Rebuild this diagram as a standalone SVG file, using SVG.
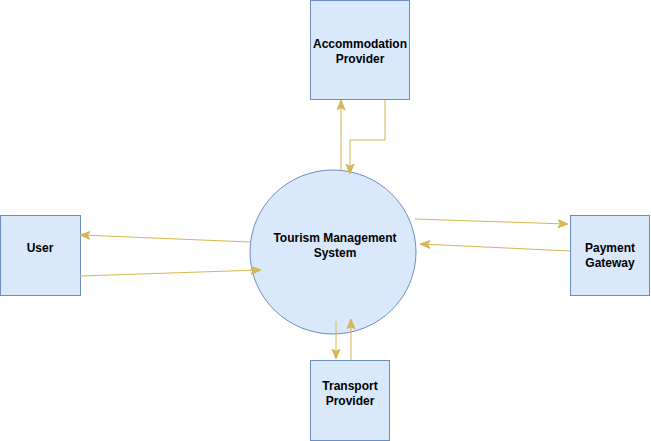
<svg xmlns="http://www.w3.org/2000/svg" width="651" height="441" viewBox="0 0 651 441">
<style>
.box{fill:#dae8fc;stroke:#6c8ebf;stroke-width:1}
.lbl{font-family:"Liberation Sans",Arial,sans-serif;font-size:12px;font-weight:bold;fill:#000;text-anchor:middle}
.c{fill:none;stroke:#d6b656;stroke-width:1;marker-end:url(#ah)}
</style>
<defs>
<marker id="ah" viewBox="0 0 10 10" refX="9" refY="5" markerWidth="10" markerHeight="10" markerUnits="userSpaceOnUse" orient="auto">
<path d="M0,1 L10,5 L0,9 L2.5,5 Z" fill="#d6b656" stroke="#d6b656" stroke-width="1"/>
</marker>
</defs>
<rect width="651" height="441" fill="#ffffff"/>
<g id="accommodation">
<rect class="box" x="310.500" y="0.500" width="99" height="99"/>
<text class="lbl" x="360" y="48">Accommodation</text>
<text class="lbl" x="360" y="63">Provider</text>
</g>
<g id="tms">
<ellipse class="box" cx="333" cy="252" rx="83" ry="82"/>
<text class="lbl" x="335" y="242">Tourism Management</text>
<text class="lbl" x="335" y="257">System</text>
</g>
<g id="user">
<rect class="box" x="0.500" y="215.500" width="80" height="80"/>
<text class="lbl" x="40" y="252">User</text>
</g>
<g id="payment">
<rect class="box" x="570.500" y="215.500" width="79" height="80"/>
<text class="lbl" x="610" y="252">Payment</text>
<text class="lbl" x="610" y="267">Gateway</text>
</g>
<g id="transport">
<rect class="box" x="310.500" y="360.500" width="79" height="80"/>
<text class="lbl" x="350" y="390">Transport</text>
<text class="lbl" x="350" y="405">Provider</text>
</g>
<g id="connectors">
<path class="c" d="M341,170 L341,101"/>
<path class="c" d="M385,100 L385,140 L350,140 L350,173"/>
<path class="c" d="M250,242 L81,235"/>
<path class="c" d="M80,276 L260,270"/>
<path class="c" d="M415,219 L567,224"/>
<path class="c" d="M570,251 L421,244"/>
<path class="c" d="M336,321 L336,358"/>
<path class="c" d="M351,360 L351,320"/>
</g>
</svg>
